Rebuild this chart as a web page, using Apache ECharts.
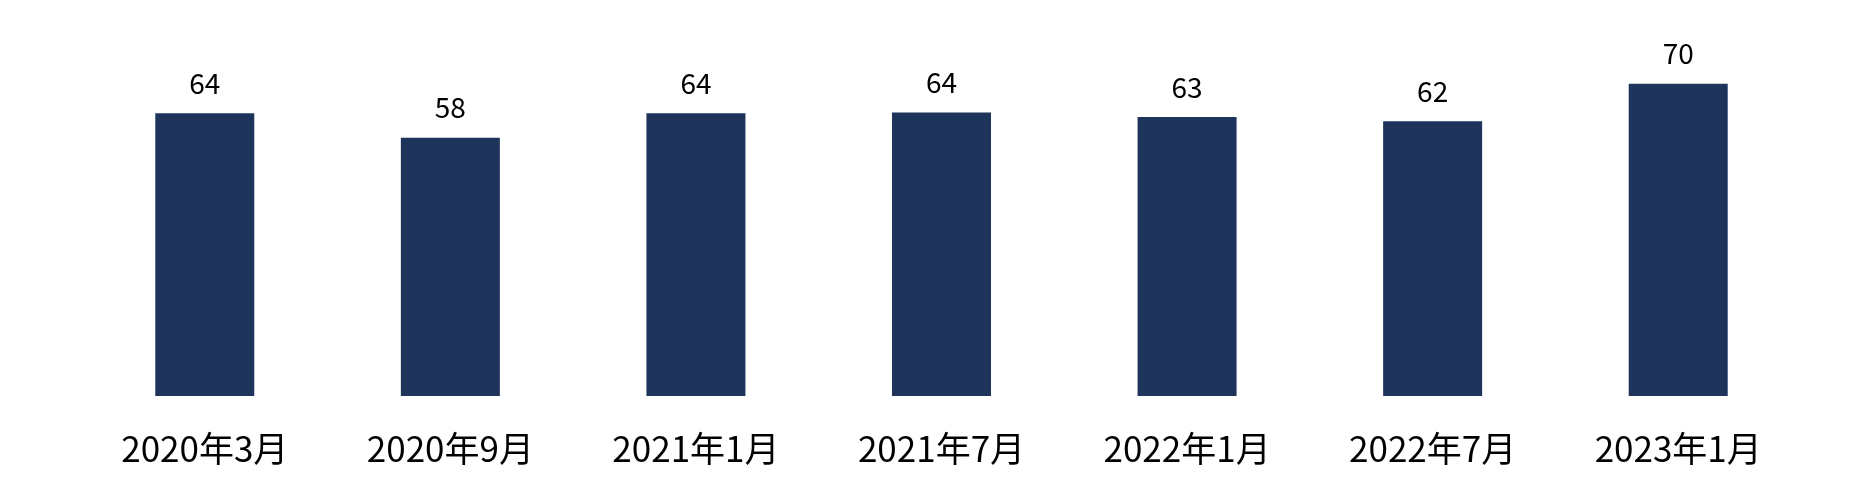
<!DOCTYPE html>
<html>
<head>
<meta charset="utf-8">
<script src="https://cdn.jsdelivr.net/npm/echarts@6/dist/echarts.min.js"></script>
<style>html,body{margin:0;padding:0;background:#fff}#c{width:1866px;height:496px}</style>
</head>
<body>
<div id="c"></div>
<script>
const categories = ['2020年3月','2020年9月','2021年1月','2021年7月','2022年1月','2022年7月','2023年1月'];
const values = [63.7, 58.2, 63.7, 63.9, 62.9, 61.9, 70.35];
const labels = [64, 58, 64, 64, 63, 62, 70];

const chart = echarts.init(document.getElementById('c'), null, {renderer:'canvas'});
chart.setOption({
  backgroundColor: '#ffffff',
  animation: false,
  grid: {left: 82, right: 65, top: 41, bottom: 100},
  xAxis: {
    type: 'category',
    data: categories,
    axisLine: {show: false},
    axisTick: {show: false},
    axisLabel: {
      margin: 35,
      fontSize: 35,
      color: '#000',
      fontFamily: '"Noto Sans CJK SC", "Noto Sans", sans-serif'
    }
  },
  yAxis: {
    type: 'value',
    min: 0,
    max: 80,
    show: false,
    splitLine: {show: false}
  },
  series: [{
    type: 'bar',
    data: values,
    barWidth: 99,
    itemStyle: {color: '#1e345b'},
    label: {
      show: true,
      position: 'top',
      distance: 16,
      fontSize: 28,
      color: '#000',
      fontFamily: '"Noto Sans CJK SC", "Noto Sans", sans-serif',
      formatter: p => String(labels[p.dataIndex])
    }
  }]
});
</script>
</body>
</html>
